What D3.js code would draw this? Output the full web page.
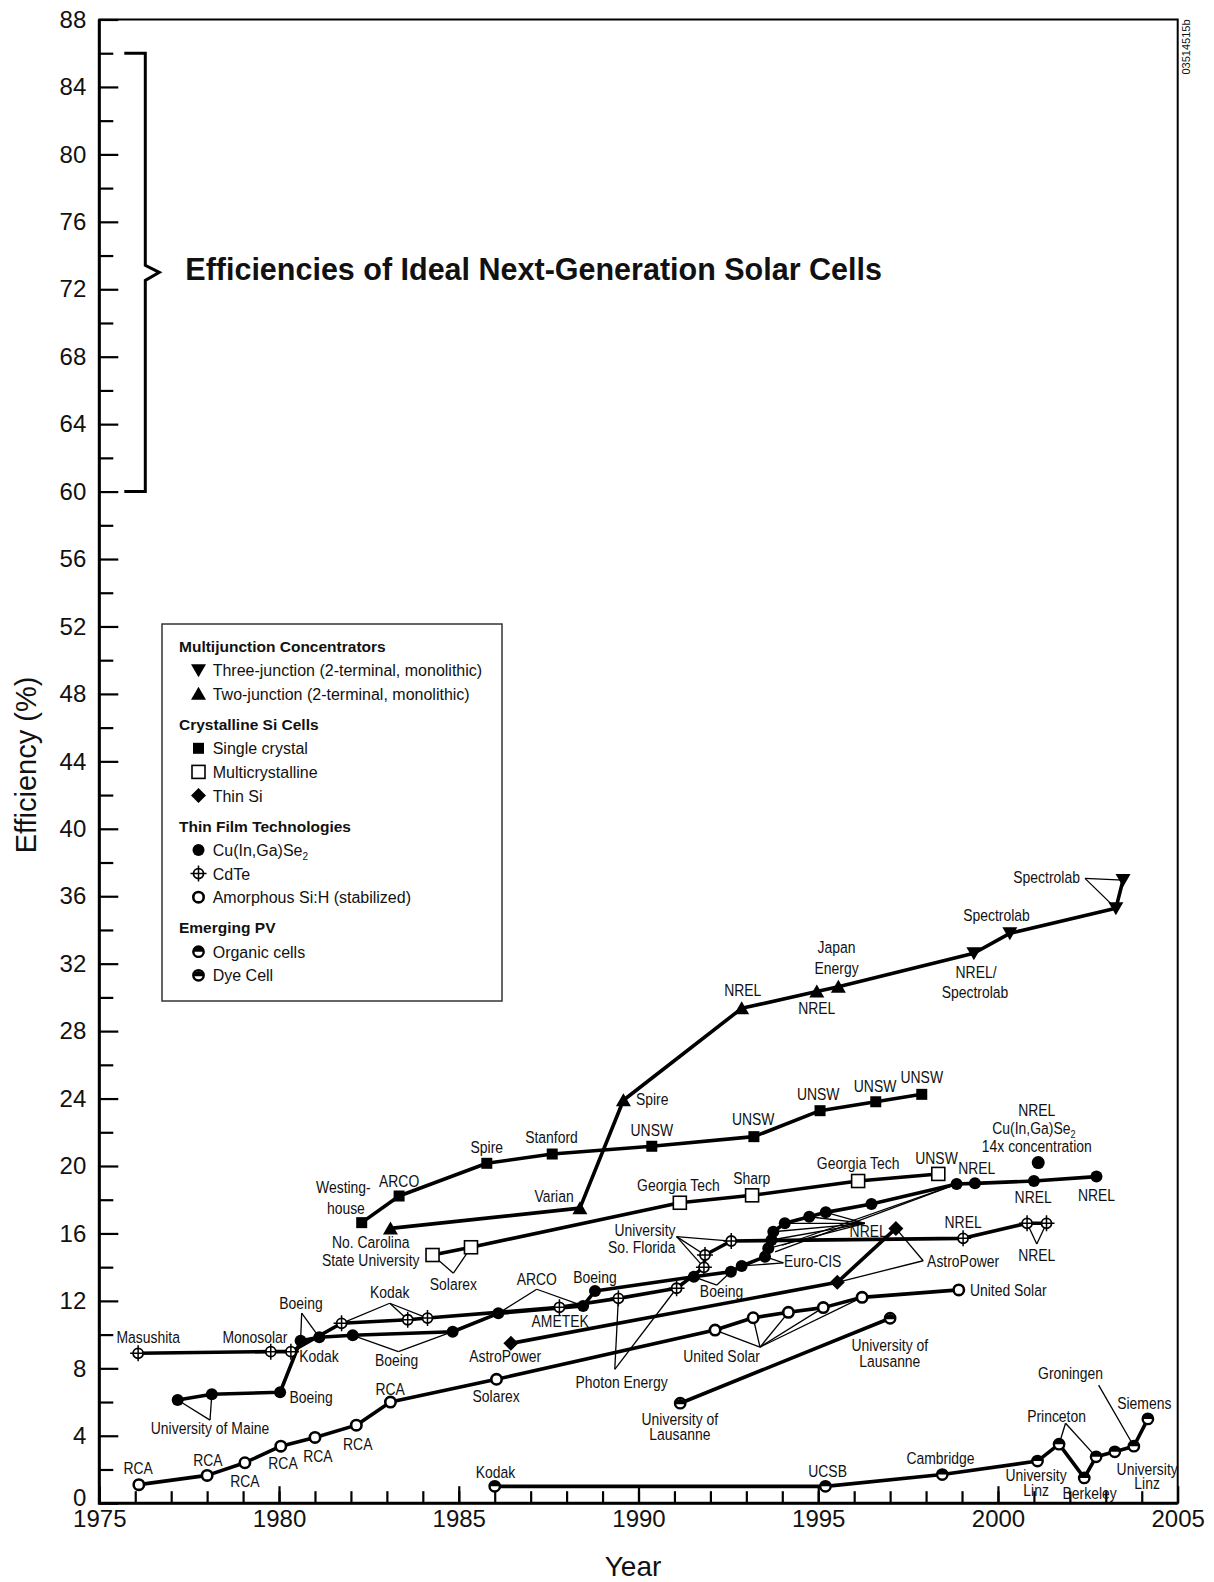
<!DOCTYPE html>
<html>
<head>
<meta charset="utf-8">
<script src="https://cdn.jsdelivr.net/npm/d3@7"></script>
<style>
body { margin: 0; background: #fff; }
svg text { font-family: "Liberation Sans", Arial, sans-serif; fill: #111; }
.lbl { font-size: 17px; }
</style>
</head>
<body>
<script>
// ---- data (year, efficiency %) ----
var twoJunction = [
  {year: 1983.1, eff: 16.3}, {year: 1988.37, eff: 17.5}, {year: 1989.58, eff: 23.9},
  {year: 1992.87, eff: 29.35}, {year: 1994.96, eff: 30.35}, {year: 1995.56, eff: 30.63}
];
var threeJunction = [
  {year: 1999.33, eff: 32.62}, {year: 2000.33, eff: 33.8}, {year: 2003.28, eff: 35.28}, {year: 2003.48, eff: 36.96}
];
var singleCrystal = [
  {year: 1982.3, eff: 16.64}, {year: 1983.34, eff: 18.22}, {year: 1985.78, eff: 20.16},
  {year: 1987.6, eff: 20.71}, {year: 1990.37, eff: 21.17}, {year: 1993.21, eff: 21.74},
  {year: 1995.05, eff: 23.28}, {year: 1996.6, eff: 23.81}, {year: 1997.88, eff: 24.25}
];
var multiCrystal = [
  {year: 1984.27, eff: 14.72}, {year: 1985.34, eff: 15.18}, {year: 1991.15, eff: 17.82},
  {year: 1993.16, eff: 18.26}, {year: 1996.11, eff: 19.11}, {year: 1998.34, eff: 19.53}
];
var thinSi = [
  {year: 1986.45, eff: 9.48}, {year: 1995.53, eff: 13.1}, {year: 1997.16, eff: 16.3}
];
var cigs = [
  {year: 1977.18, eff: 6.12}, {year: 1978.13, eff: 6.46}, {year: 1980.03, eff: 6.58},
  {year: 1980.6, eff: 9.64}, {year: 1981.12, eff: 9.84}, {year: 1982.05, eff: 9.96},
  {year: 1984.83, eff: 10.17}, {year: 1986.1, eff: 11.26}, {year: 1988.46, eff: 11.7},
  {year: 1988.79, eff: 12.59}, {year: 1991.54, eff: 13.43}, {year: 1992.57, eff: 13.73},
  {year: 1992.87, eff: 14.07}, {year: 1993.52, eff: 14.62}, {year: 1993.61, eff: 15.12},
  {year: 1993.7, eff: 15.61}, {year: 1993.75, eff: 16.1}, {year: 1994.07, eff: 16.6},
  {year: 1994.75, eff: 16.99}, {year: 1995.21, eff: 17.25}, {year: 1996.48, eff: 17.75},
  {year: 1998.85, eff: 18.93}, {year: 1999.36, eff: 18.97}, {year: 2001.0, eff: 19.11},
  {year: 2002.74, eff: 19.37}
];
var cigsConcentrator = [{year: 2001.12, eff: 20.2}];
var cdte = [
  {year: 1976.08, eff: 8.89}, {year: 1979.77, eff: 8.99}, {year: 1980.33, eff: 8.99},
  {year: 1981.74, eff: 10.67}, {year: 1983.58, eff: 10.88}, {year: 1984.13, eff: 10.98},
  {year: 1987.8, eff: 11.62}, {year: 1989.44, eff: 12.15}, {year: 1991.06, eff: 12.75},
  {year: 1991.82, eff: 13.99}, {year: 1991.85, eff: 14.72}, {year: 1992.58, eff: 15.55},
  {year: 1999.03, eff: 15.71}, {year: 2000.81, eff: 16.6}, {year: 2001.35, eff: 16.6}
];
var amorphousSi = [
  {year: 1976.1, eff: 1.1}, {year: 1978.0, eff: 1.65}, {year: 1979.05, eff: 2.4},
  {year: 1980.05, eff: 3.38}, {year: 1981.0, eff: 3.9}, {year: 1982.15, eff: 4.63},
  {year: 1983.1, eff: 6.0}, {year: 1986.05, eff: 7.35}, {year: 1992.13, eff: 10.27},
  {year: 1993.19, eff: 11.0}, {year: 1994.17, eff: 11.32}, {year: 1995.14, eff: 11.6},
  {year: 1996.22, eff: 12.21}, {year: 1998.91, eff: 12.65}
];
var organic = [
  {year: 1986.0, eff: 1.0}, {year: 1995.2, eff: 1.0}, {year: 1998.45, eff: 1.7},
  {year: 2001.1, eff: 2.5}, {year: 2001.7, eff: 3.5}, {year: 2002.4, eff: 1.5},
  {year: 2002.73, eff: 2.75}, {year: 2003.25, eff: 3.05}, {year: 2003.78, eff: 3.38},
  {year: 2004.17, eff: 5.0}
];
var dyeCell = [{year: 1991.16, eff: 5.93}, {year: 1997.0, eff: 10.97}];

var yMajorTicks = d3.range(0, 89, 4);
var yMinorTicks = d3.range(2, 88, 4);
var xMajorTicks = [1975, 1980, 1985, 1990, 1995, 2000, 2005];
var xMinorTicks = d3.range(1976, 2005);

// series: data, marker, connected line?
var series = {
  multi: {data: twoJunction.concat(threeJunction), line: true},
  twoJunction: {data: twoJunction, mark: "tri2"},
  threeJunction: {data: threeJunction, mark: "tri3"},
  singleCrystal: {data: singleCrystal, mark: "sq", line: true},
  multiCrystal: {data: multiCrystal, mark: "osq", line: true},
  thinSi: {data: thinSi, mark: "dia", line: true},
  cigs: {data: cigs, mark: "cig", line: true},
  cigsConcentrator: {data: cigsConcentrator, mark: "cigbig"},
  cdte: {data: cdte, mark: "cdte", line: true},
  amorphousSi: {data: amorphousSi, mark: "asi", line: true},
  organic: {data: organic, mark: "org", line: true},
  dyeCell: {data: dyeCell, mark: "dye", line: true}
};

// annotation text, placed in data units (baseline)
var labels = [
  {t: "Spectrolab", x: 2002.28, y: 36.77, a: "end"},
  {t: "Spectrolab", x: 1999.96, y: 34.55},
  {t: "NREL/", x: 1999.39, y: 31.13}, {t: "Spectrolab", x: 1999.36, y: 29.95},
  {t: "Japan", x: 1995.51, y: 32.65}, {t: "Energy", x: 1995.51, y: 31.39},
  {t: "NREL", x: 1994.96, y: 29.02},
  {t: "NREL", x: 1992.9, y: 30.08},
  {t: "Spire", x: 1989.93, y: 23.62, a: "start"},
  {t: "Varian", x: 1987.65, y: 17.88},
  {t: "No. Carolina", x: 1982.55, y: 15.12}, {t: "State University", x: 1982.55, y: 14.07},
  {t: "Westing-", x: 1981.79, y: 18.38}, {t: "house", x: 1981.86, y: 17.15},
  {t: "ARCO", x: 1983.34, y: 18.77},
  {t: "Spire", x: 1985.78, y: 20.79},
  {t: "Stanford", x: 1987.58, y: 21.35},
  {t: "UNSW", x: 1990.37, y: 21.78},
  {t: "UNSW", x: 1993.19, y: 22.43},
  {t: "UNSW", x: 1995.0, y: 23.91},
  {t: "UNSW", x: 1996.58, y: 24.41},
  {t: "UNSW", x: 1997.88, y: 24.9},
  {t: "Solarex", x: 1984.85, y: 12.65},
  {t: "Georgia Tech", x: 1991.11, y: 18.52},
  {t: "Sharp", x: 1993.15, y: 18.93},
  {t: "Georgia Tech", x: 1996.11, y: 19.82},
  {t: "UNSW", x: 1998.29, y: 20.12},
  {t: "NREL", x: 2001.08, y: 22.97},
  {t: "Cu(In,Ga)Se", sub: "2", x: 2001.0, y: 21.9},
  {t: "14x concentration", x: 2001.08, y: 20.85},
  {t: "NREL", x: 1999.41, y: 19.53},
  {t: "NREL", x: 2000.98, y: 17.79},
  {t: "NREL", x: 2002.74, y: 17.94},
  {t: "NREL", x: 1999.03, y: 16.3},
  {t: "NREL", x: 2001.08, y: 14.38},
  {t: "NREL", x: 1996.39, y: 15.81},
  {t: "AstroPower", x: 1999.03, y: 13.99},
  {t: "AstroPower", x: 1986.29, y: 8.37},
  {t: "Euro-CIS", x: 1994.05, y: 13.99, a: "start"},
  {t: "University", x: 1990.18, y: 15.87}, {t: "So. Florida", x: 1990.09, y: 14.82},
  {t: "Boeing", x: 1992.31, y: 12.25},
  {t: "Boeing", x: 1988.79, y: 13.04},
  {t: "ARCO", x: 1987.17, y: 12.94},
  {t: "AMETEK", x: 1987.82, y: 10.47},
  {t: "Kodak", x: 1983.08, y: 12.15},
  {t: "Boeing", x: 1980.61, y: 11.5},
  {t: "Masushita", x: 1976.36, y: 9.52},
  {t: "Monosolar", x: 1979.33, y: 9.52},
  {t: "Kodak", x: 1981.11, y: 8.39},
  {t: "Boeing", x: 1983.27, y: 8.14},
  {t: "Boeing", x: 1980.29, y: 5.93, a: "start"},
  {t: "University of Maine", x: 1978.08, y: 4.1},
  {t: "Photon Energy", x: 1989.53, y: 6.81},
  {t: "RCA", x: 1976.08, y: 1.71}, {t: "RCA", x: 1978.02, y: 2.19}, {t: "RCA", x: 1979.05, y: 0.96},
  {t: "RCA", x: 1980.11, y: 2.03}, {t: "RCA", x: 1981.08, y: 2.44}, {t: "RCA", x: 1982.19, y: 3.16},
  {t: "RCA", x: 1983.09, y: 6.42},
  {t: "Solarex", x: 1986.04, y: 6.0},
  {t: "United Solar", x: 1992.31, y: 8.36},
  {t: "United Solar", x: 1999.22, y: 12.31, a: "start"},
  {t: "University of", x: 1996.99, y: 9.05}, {t: "Lausanne", x: 1996.99, y: 8.06},
  {t: "University of", x: 1991.15, y: 4.64}, {t: "Lausanne", x: 1991.15, y: 3.75},
  {t: "Kodak", x: 1986.02, y: 1.49},
  {t: "UCSB", x: 1995.26, y: 1.55},
  {t: "Cambridge", x: 1998.4, y: 2.33},
  {t: "University", x: 2001.06, y: 1.32}, {t: "Linz", x: 2001.06, y: 0.43},
  {t: "Princeton", x: 2001.63, y: 4.82},
  {t: "Groningen", x: 2002.02, y: 7.37},
  {t: "Berkeley", x: 2002.55, y: 0.25},
  {t: "University", x: 2004.15, y: 1.67}, {t: "Linz", x: 2004.15, y: 0.84},
  {t: "Siemens", x: 2004.07, y: 5.59}
];

// thin leader lines: from a point in data units to a point of a series
var leaders = [
  [[2002.42, 37.06], "threeJunction", 3], [[2002.42, 37.06], "threeJunction", 2],
  [[1984.85, 13.64], "multiCrystal", 0], [[1984.85, 13.64], "multiCrystal", 1],
  [[1997.92, 14.38], "thinSi", 2], [[1997.92, 14.38], "thinSi", 1],
  [[1994.03, 14.25], "cigs", 12], [[1994.03, 14.25], "cigs", 13],
  [[1991.06, 15.81], "cdte", 11], [[1991.06, 15.81], "cdte", 10], [[1991.06, 15.81], "cdte", 9],
  [[1992.18, 12.94], "cigs", 10], [[1992.18, 12.94], "cigs", 11],
  [[1987.17, 12.69], "cigs", 7], [[1987.17, 12.69], "cigs", 8],
  [[1983.08, 11.86], "cdte", 3], [[1983.08, 11.86], "cdte", 4], [[1983.08, 11.86], "cdte", 5],
  [[1980.63, 11.28], "cigs", 3], [[1980.63, 11.28], "cigs", 4],
  [[1983.32, 8.99], "cigs", 5], [[1983.32, 8.99], "cigs", 6],
  [[1978.08, 4.93], "cigs", 0], [[1978.08, 4.93], "cigs", 1],
  [[1989.34, 7.94], "cdte", 7], [[1989.34, 7.94], "cdte", 8],
  [[1993.38, 9.26], "amorphousSi", 8], [[1993.38, 9.26], "amorphousSi", 9],
  [[1993.38, 9.26], "amorphousSi", 10], [[1993.38, 9.26], "amorphousSi", 11],
  [[1993.38, 9.26], "amorphousSi", 12],
  [[2001.08, 15.37], "cdte", 13], [[2001.08, 15.37], "cdte", 14],
  [[1996.3, 16.6], "cigs", 14], [[1996.3, 16.6], "cigs", 15], [[1996.3, 16.6], "cigs", 16],
  [[1996.3, 16.6], "cigs", 17], [[1996.3, 16.6], "cigs", 18], [[1996.3, 16.6], "cigs", 19],
  [[1993.8, 14.9], "cigs", 21], [[1994.0, 15.3], "cigs", 21],
  [[2001.88, 4.74], "organic", 4], [[2001.88, 4.74], "organic", 6],
  [[2002.8, 7.0], "organic", 8]
];

var legendGroups = [
  {title: "Multijunction Concentrators", items: [["tri3", "Three-junction (2-terminal, monolithic)"], ["tri2", "Two-junction (2-terminal, monolithic)"]]},
  {title: "Crystalline Si Cells", items: [["sq", "Single crystal"], ["osq", "Multicrystalline"], ["dia", "Thin Si"]]},
  {title: "Thin Film Technologies", items: [["cig", "Cu(In,Ga)Se", "2"], ["cdte", "CdTe"], ["asi", "Amorphous Si:H (stabilized)"]]},
  {title: "Emerging PV", items: [["org", "Organic cells"], ["dye", "Dye Cell"]]}
];

// ---- drawing ----
var W = 1214, H = 1582;
var x = d3.scaleLinear().domain([1975, 2005]).range([99.3, 1177.7]);
var y = d3.scaleLinear().domain([0, 88]).range([1503.2, 19.5]);

var svg = d3.select("body").append("svg").attr("width", W).attr("height", H);

function marker(g, type, cx, cy) {
  var k = "#000";
  if (type === "tri3") {
    g.append("path").attr("d", "M" + (cx - 7.5) + "," + (cy - 6) + "L" + (cx + 7.5) + "," + (cy - 6) + "L" + cx + "," + (cy + 7) + "Z").attr("fill", k);
  } else if (type === "tri2") {
    g.append("path").attr("d", "M" + (cx - 7.5) + "," + (cy + 6) + "L" + (cx + 7.5) + "," + (cy + 6) + "L" + cx + "," + (cy - 7) + "Z").attr("fill", k);
  } else if (type === "sq") {
    g.append("rect").attr("x", cx - 5.5).attr("y", cy - 5.5).attr("width", 11).attr("height", 11).attr("fill", k);
  } else if (type === "osq") {
    g.append("rect").attr("x", cx - 6.5).attr("y", cy - 6.5).attr("width", 13).attr("height", 13).attr("fill", "#fff").attr("stroke", k).attr("stroke-width", 1.6);
  } else if (type === "dia") {
    g.append("path").attr("d", "M" + cx + "," + (cy - 7.5) + "L" + (cx + 7.5) + "," + cy + "L" + cx + "," + (cy + 7.5) + "L" + (cx - 7.5) + "," + cy + "Z").attr("fill", k);
  } else if (type === "cig") {
    g.append("circle").attr("cx", cx).attr("cy", cy).attr("r", 6).attr("fill", k);
  } else if (type === "cigbig") {
    g.append("circle").attr("cx", cx).attr("cy", cy).attr("r", 6.5).attr("fill", k);
  } else if (type === "cdte") {
    g.append("circle").attr("cx", cx).attr("cy", cy).attr("r", 5).attr("fill", "#fff").attr("stroke", k).attr("stroke-width", 1.8);
    g.append("path").attr("d", "M" + (cx - 8) + "," + cy + "H" + (cx + 8) + "M" + cx + "," + (cy - 8) + "V" + (cy + 8)).attr("stroke", k).attr("stroke-width", 1.5);
  } else if (type === "asi") {
    g.append("circle").attr("cx", cx).attr("cy", cy).attr("r", 5.2).attr("fill", "#fff").attr("stroke", k).attr("stroke-width", 2.6);
  } else if (type === "org" || type === "dye") {
    g.append("circle").attr("cx", cx).attr("cy", cy).attr("r", 5.2).attr("fill", "#fff").attr("stroke", k).attr("stroke-width", 2.4);
    if (type === "org") {
      g.append("path").attr("d", "M" + (cx - 5.2) + "," + cy + "A5.2,5.2 0 0 1 " + (cx + 5.2) + "," + cy + "Z").attr("fill", k);
    } else {
      g.append("path").attr("d", "M" + (cx - 5.2) + "," + (cy + 1) + "A5.2,5.2 0 0 1 " + (cx + 5.2) + "," + (cy + 1) + "Z").attr("fill", k);
    }
  }
}

// frame
svg.append("rect").attr("x", x(1975)).attr("y", y(88)).attr("width", x(2005) - x(1975)).attr("height", y(0) - y(88))
  .attr("fill", "none").attr("stroke", "#000").attr("stroke-width", 2);
svg.append("path").attr("d", "M" + x(1975) + "," + y(88) + "V" + y(0) + "H" + x(2005))
  .attr("fill", "none").attr("stroke", "#000").attr("stroke-width", 3);

// axes
function styleAxis(g, fs) {
  g.select(".domain").remove();
  g.selectAll(".tick line").attr("stroke", "#000").attr("stroke-width", 2.2);
  g.selectAll(".tick text").attr("font-family", "'Liberation Sans', Arial, sans-serif").attr("font-size", fs).attr("fill", "#111");
}
var yAxisG = svg.append("g").attr("transform", "translate(" + x(1975) + ",0)")
  .call(d3.axisLeft(y).tickValues(yMajorTicks).tickSize(-19).tickPadding(13).tickFormat(d3.format("d")))
  .call(styleAxis, 24);
// the "0" label sits a little above its tick, clear of "1975"
yAxisG.selectAll(".tick text").filter(function(d) { return d === 0; }).attr("dy", "0.08em");
svg.append("g").attr("transform", "translate(" + x(1975) + ",0)")
  .call(d3.axisLeft(y).tickValues(yMinorTicks).tickSize(-14).tickFormat(""))
  .call(styleAxis, 0);
svg.append("g").attr("transform", "translate(0," + y(0) + ")")
  .call(d3.axisBottom(x).tickValues(xMajorTicks).tickSize(-17).tickPadding(7).tickFormat(d3.format("d")))
  .call(styleAxis, 24);
svg.append("g").attr("transform", "translate(0," + y(0) + ")")
  .call(d3.axisBottom(x).tickValues(xMinorTicks).tickSize(-12).tickFormat(""))
  .call(styleAxis, 0);

svg.append("text").attr("transform", "translate(36,765) rotate(-90)")
  .attr("text-anchor", "middle").attr("font-size", 29).text("Efficiency (%)");
svg.append("text").attr("x", 633).attr("y", 1576).attr("text-anchor", "middle").attr("font-size", 28).text("Year");
svg.append("text").attr("transform", "translate(1190,47) rotate(-90)")
  .attr("text-anchor", "middle").attr("font-size", 11).text("03514515b");

// ideal next-generation bracket
var bx = x(1975) + 46;
svg.append("path")
  .attr("d", "M" + (bx - 21) + "," + y(86) + "H" + bx + "V" + (y(73) - 7) + "L" + (bx + 14) + "," + y(73) +
    "L" + bx + "," + (y(73) + 8) + "V" + y(60) + "H" + (bx - 21))
  .attr("fill", "none").attr("stroke", "#000").attr("stroke-width", 3);
svg.append("text").attr("x", bx + 40).attr("y", y(73) + 8).attr("font-size", 30.5).attr("font-weight", "bold")
  .text("Efficiencies of Ideal Next-Generation Solar Cells");

// leader lines
var lead = svg.append("g").attr("stroke", "#000").attr("stroke-width", 1.3);
leaders.forEach(function(l) {
  var p = series[l[1]].data[l[2]];
  lead.append("line").attr("x1", x(l[0][0])).attr("y1", y(l[0][1])).attr("x2", x(p.year)).attr("y2", y(p.eff));
});

// labels (condensed face imitated by a horizontal squeeze)
var lab = svg.append("g");
labels.forEach(function(d) {
  var t = lab.append("text").attr("class", "lbl")
    .attr("transform", "translate(" + x(d.x) + "," + y(d.y) + ") scale(0.82,1)")
    .attr("text-anchor", d.a || "middle").text(d.t);
  if (d.sub) t.append("tspan").attr("font-size", 11).attr("dy", 4).text(d.sub);
});

// lines
var line = d3.line().x(function(d) { return x(d.year); }).y(function(d) { return y(d.eff); });
var lines = svg.append("g");
Object.keys(series).forEach(function(key) {
  var s = series[key];
  if (s.line) lines.append("path").attr("d", line(s.data)).attr("fill", "none").attr("stroke", "#000")
    .attr("stroke-width", 3.6).attr("stroke-linejoin", "round");
});

// markers
var marks = svg.append("g");
Object.keys(series).forEach(function(key) {
  var s = series[key];
  if (!s.mark) return;
  s.data.forEach(function(d) { marker(marks, s.mark, x(d.year), y(d.eff)); });
});

// legend
var lg = svg.append("g");
lg.append("rect").attr("x", 162).attr("y", 624).attr("width", 340).attr("height", 377)
  .attr("fill", "#fff").attr("stroke", "#333").attr("stroke-width", 1.5);
var ly = 651.7;
legendGroups.forEach(function(grp, gi) {
  if (gi > 0) ly += 30;
  lg.append("text").attr("x", 179).attr("y", ly).attr("font-size", 15.5).attr("font-weight", "bold").text(grp.title);
  grp.items.forEach(function(it, ii) {
    ly += ii === 0 ? 24.5 : 23.6;
    marker(lg, it[0], 198.5, ly - 6);
    var t = lg.append("text").attr("x", 212.7).attr("y", ly).attr("font-size", 16).text(it[1]);
    if (it[2]) t.append("tspan").attr("font-size", 10).attr("dy", 4).text(it[2]);
  });
});
</script>
</body>
</html>
